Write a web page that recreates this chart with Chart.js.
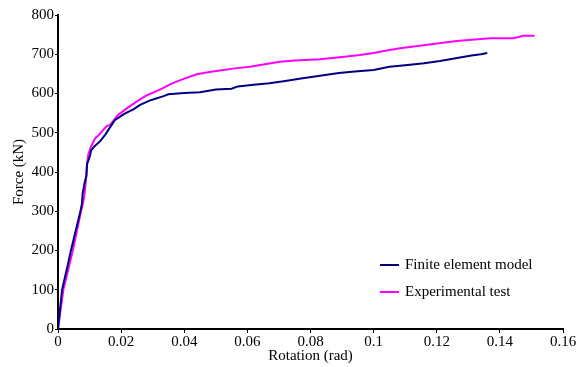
<!DOCTYPE html>
<html>
<head>
<meta charset="utf-8">
<script src="https://cdn.jsdelivr.net/npm/chart.js@4.4.0/dist/chart.umd.min.js"></script>
<style>
  html, body { margin: 0; padding: 0; background: #fff; }
  #wrap { width: 585px; height: 367px; }
</style>
</head>
<body>
<div id="wrap"><canvas id="forceChart" width="585" height="367"></canvas></div>
<script>
// series values
const feRotation = [0, 0.0005, 0.0013, 0.003, 0.0041, 0.0071, 0.0076, 0.0078, 0.0085, 0.009, 0.0092, 0.0101, 0.0105, 0.0115, 0.0133, 0.015, 0.016, 0.018, 0.021, 0.024, 0.026, 0.029, 0.0313, 0.033, 0.035, 0.040, 0.045, 0.050, 0.055, 0.057, 0.062, 0.067, 0.072, 0.077, 0.083, 0.089, 0.094, 0.1, 0.105, 0.11, 0.116, 0.121, 0.126, 0.131, 0.134, 0.136];
const feForce = [0, 40, 100, 160, 200, 300, 320, 345, 375, 390, 420, 440, 455, 465, 478, 495, 508, 532, 548, 560, 571, 582, 588, 592, 598, 601, 603, 610, 612, 618, 622, 626, 632, 638, 645, 652, 656, 660, 668, 672, 677, 683, 690, 697, 700, 703];

const expRotation = [0, 0.0017, 0.0047, 0.0073, 0.008, 0.0085, 0.0089, 0.0092, 0.0096, 0.0105, 0.0117, 0.013, 0.0154, 0.0165, 0.019, 0.0218, 0.025, 0.028, 0.0323, 0.036, 0.040, 0.044, 0.048, 0.0524, 0.056, 0.0608, 0.066, 0.0703, 0.075, 0.083, 0.09, 0.0957, 0.1, 0.105, 0.1084, 0.1158, 0.1263, 0.1369, 0.1443, 0.1474, 0.151];
const expForce = [0, 100, 200, 300, 324, 350, 385, 420, 445, 465, 485, 495, 517, 520, 545, 562, 580, 595, 610, 625, 638, 649, 655, 660, 664, 668, 675, 681, 684, 687, 693, 698, 703, 711, 715, 723, 734, 741, 741, 747, 747];

const xTickLabels = ['0', '0.02', '0.04', '0.06', '0.08', '0.1', '0.12', '0.14', '0.16'];
const yTickLabels = ['0', '100', '200', '300', '400', '500', '600', '700', '800'];

const seriesNames = ['Finite element model', 'Experimental test'];

function toPoints(xs, ys) {
    return xs.map((x, i) => ({ x: x, y: ys[i] }));
}

const serif = "'Liberation Serif', 'Times New Roman', serif";

// legend drawn inside the plot, bottom right
const insideLegend = {
    id: 'insideLegend',
    afterDraw(chart) {
        const c = chart.ctx;
        const area = chart.chartArea;
        const x0 = area.right - 183;
        let y = area.bottom - 64;
        c.save();
        c.font = '15px ' + serif;
        c.textBaseline = 'middle';
        chart.data.datasets.forEach(ds => {
            c.strokeStyle = ds.borderColor;
            c.lineWidth = 2;
            c.beginPath();
            c.moveTo(x0, y);
            c.lineTo(x0 + 19, y);
            c.stroke();
            c.fillStyle = '#000';
            c.fillText(ds.label, x0 + 25, y);
            y += 27;
        });
        c.restore();
    }
};

const ctx = document.getElementById('forceChart').getContext('2d');

const myChart = new Chart(ctx, {
    type: 'scatter',
    data: {
        datasets: [{
            label: seriesNames[0],
            data: toPoints(feRotation, feForce),
            showLine: true,
            borderColor: '#000080',
            borderWidth: 2,
            pointRadius: 0,
            tension: 0
        }, {
            label: seriesNames[1],
            data: toPoints(expRotation, expForce),
            showLine: true,
            borderColor: '#ff00ff',
            borderWidth: 2,
            pointRadius: 0,
            tension: 0
        }]
    },
    options: {
        responsive: false,
        animation: false,
        layout: {
            padding: { top: 15, right: 22, left: 0, bottom: 0 }
        },
        scales: {
            x: {
                type: 'linear',
                min: 0,
                max: 0.16,
                ticks: {
                    stepSize: 0.02,
                    color: '#000',
                    font: { family: serif, size: 15 },
                    padding: 0,
                    maxRotation: 0,
                    callback: function(value, index) {
                        return xTickLabels[index];
                    }
                },
                grid: {
                    drawOnChartArea: false,
                    drawTicks: true,
                    tickLength: 4,
                    color: '#000'
                },
                border: { color: '#000', width: 2 },
                title: {
                    display: true,
                    text: 'Rotation (rad)',
                    color: '#000',
                    font: { family: serif, size: 15 },
                    padding: { top: 0, bottom: 2 }
                },
                afterFit: function(scale) { scale.height = 38; }
            },
            y: {
                min: 0,
                max: 800,
                ticks: {
                    stepSize: 100,
                    color: '#000',
                    font: { family: serif, size: 15 },
                    padding: 1,
                    callback: function(value, index) {
                        return yTickLabels[index];
                    }
                },
                grid: {
                    drawOnChartArea: false,
                    drawTicks: true,
                    tickLength: 3,
                    color: '#000'
                },
                border: { color: '#000', width: 2 },
                title: {
                    display: true,
                    text: 'Force (kN)',
                    color: '#000',
                    font: { family: serif, size: 15 },
                    padding: { top: 10, bottom: 0 }
                },
                afterFit: function(scale) { scale.width = 58; }
            }
        },
        plugins: {
            legend: { display: false },
            tooltip: { enabled: false }
        }
    },
    plugins: [insideLegend]
});
</script>
</body>
</html>
